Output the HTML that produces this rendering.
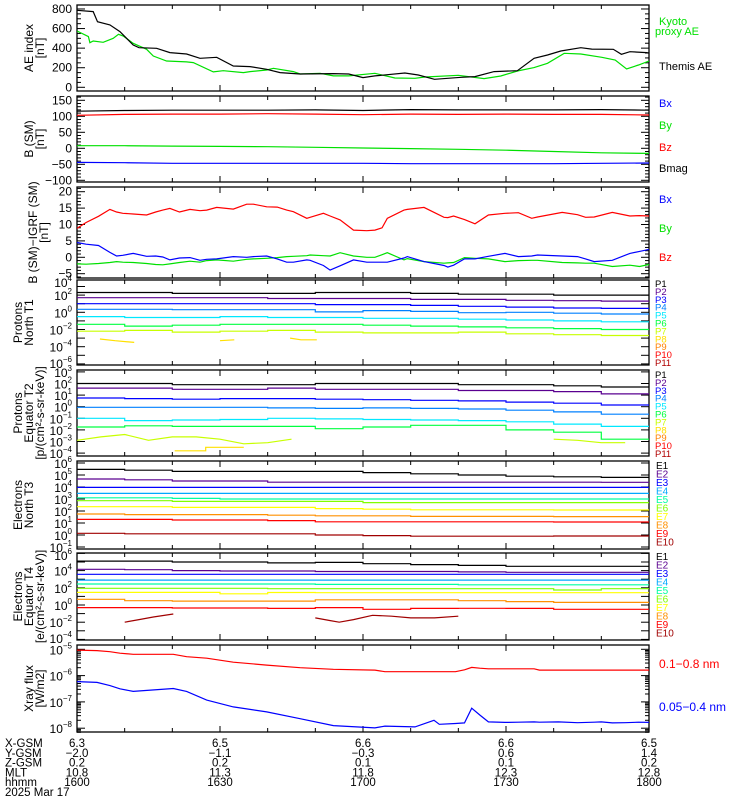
<!DOCTYPE html>
<html><head><meta charset="utf-8"><style>
body{margin:0;background:#fff}
svg{display:block;font-family:"Liberation Sans",sans-serif}
</style></head><body>
<svg id="c" width="750" height="800" viewBox="0 0 750 800" xmlns="http://www.w3.org/2000/svg"></svg>
<script>
// ---------- DATA ----------
const aeThemisT=[0,3.4,4.3,6.9,9,11.8,13,16.7,19.5,23,25.8,29.3,32.8,36.3,39.8,42.6,46.8,53.8,57,60,62.5,68.8,71.6,75,80.6,83.5,87.5,92.4,95.9,98.7,101.5,105.7,108,112.5,114.2,116,119.5,120];
const aeThemisV=[787,773,670,637,569,432,405,398,354,340,296,306,218,211,184,150,136,140,136,99,116,146,126,82,102,109,160,170,296,330,371,405,390,388,337,364,354,350];
const aeKyotoT=[0,2.4,2.7,3.4,5.5,7.6,8.7,9.7,11.8,14.6,16,18.8,23,24.4,28.6,30.7,34.9,36.3,39.8,41.2,45.4,46.8,51,53.8,57,62.5,66.7,70.9,73,80,85.4,88.9,92.4,95.9,98.7,102.2,105.7,110.1,112.9,115.3,117.8,120];
const aeKyotoV=[575,518,456,473,460,500,541,524,449,388,320,269,259,252,157,170,150,160,177,194,160,136,143,116,116,143,95,92,105,123,89,115,167,201,245,347,340,306,279,187,228,269];
const bT=[0,10,20,30,40,50,60,70,80,90,100,110,120];
const bxSM=[-44,-45,-47,-47,-47,-47,-47,-48,-48,-48,-48,-47,-46];
const bySM=[8,8,7,6,5,3,1,-1,-3,-6,-10,-14,-16];
const bzSM=[103,106,107,107,108,107,105,107,106,107,106,106,104];
const bmagSM=[116,118,119,119,119,120,118,121,120,120,120,121,119];
const dT=[0,1.9,4.5,6.9,8.3,9.6,11.8,14.6,16.5,18,19.5,21.5,23.7,25.8,27.2,29.3,32.8,35.6,37,39.8,42,44,45.4,48.2,48.9,51.7,53.1,55.2,58,60.8,62.5,64,65.1,68.6,69.3,72.8,77,77.8,79,81.3,83.5,86.3,89.8,92.6,95.4,96.6,101.8,105,106.7,108.5,112.3,116,118,120];
const dBz=[8.8,10.6,12.5,14.6,13.8,13.4,13.2,12.9,13.8,14.4,14.9,13.8,14.6,14.2,14.4,15.2,14.7,16.2,16.2,15.4,15.3,14.4,13.9,11.9,12.2,13.4,12.6,11.4,8.3,8.1,8.3,9,11.9,14.4,14.6,15.2,12.2,12.1,12.6,11.5,10.2,12.9,13.4,13.6,11.9,12.3,13.7,13,12.2,12.3,13.7,12.6,12.7,12.6];
const dBx=[4.5,4,3.6,1.5,0.4,0.6,1.2,0.3,0.4,0.1,-0.8,-0.2,-0.1,-0.9,-0.6,-0.5,0.2,0,0.2,0.4,-0.5,-1.5,-1.5,-0.8,-0.9,-2.5,-3.9,-2.6,-0.8,-1.5,-1.5,-1.5,-1.5,-0.2,0.2,-1.3,-2.5,-3,-2.4,-0.5,-0.5,0.3,1.2,0.2,0.4,0.7,0.4,0.2,-0.5,-1.3,-0.9,1.2,1.8,2.4];
const dBy=[-2,-2.1,-1.9,-1.6,-1.3,-1.5,-1.6,-1.9,-2.2,-2.3,-2,-1.6,-1.2,-1.5,-1,-0.8,-1.2,-0.6,-0.5,-0.3,-0.1,0.2,0.3,0.5,0.7,0.5,0.4,1.4,0.4,0,0,0.8,1.4,-0.8,-0.4,-1.3,-1.8,-1.7,-1.6,-0.1,-0.3,-0.5,-1.3,-1,-0.9,-0.9,-1.6,-1.7,-1.8,-1.8,-2.8,-2.4,-2.8,-2.2];
const stepT=[0,10,20,30,40,50,60,70,80,90,100,110,120];
// Protons North T1 (log10 flux)
const pn1=[2.3,2.3,2.2,2.2,2.2,2.3,2.3,2.2,2.1,2.1,2.0,2.0];
const pn2=[1.7,1.7,1.7,1.7,1.6,1.6,1.6,1.5,1.5,1.4,1.35,1.3];
const pn3=[1.0,1.0,1.0,1.0,1.0,0.9,0.9,0.8,0.7,0.6,0.5,0.45];
const pn4=[0.35,0.35,0.3,0.3,0.3,0.05,0.2,0.1,-0.05,0,-0.1,-0.2];
const pn5=[-0.5,-0.6,-0.6,-0.5,-0.6,-0.6,-0.7,-0.7,-0.8,-0.9,-1.0,-1.1];
const pn6=[-1.4,-1.6,-1.5,-1.4,-1.4,-1.4,-1.5,-1.6,-1.7,-1.8,-1.9,-2.0];
const pn7=[-2.2,-2.1,-2.3,-2.2,-2.1,-2.3,-2.4,-2.4,-2.3,-2.5,-2.6,-2.7];
const pn8T=[4.8,8,12,20.1,null,30,33,35,null,44.7,47,50.3];
const pn8=[-3.1,-3.3,-3.5,null,null,-3.3,-3.2,null,null,-3.0,-3.2];
// Protons Equator T2
const pe1=[2.0,2.0,1.9,1.9,1.9,2.0,2.0,2.0,1.9,1.9,1.8,1.7];
const pe2=[1.6,1.6,1.5,1.5,1.6,1.5,1.5,1.5,1.4,1.4,1.3,1.1];
const pe3=[0.75,0.7,0.65,0.7,0.7,0.65,0.6,0.55,0.5,0.4,0.3,0.15];
const pe4=[-0.05,-0.05,-0.05,-0.05,-0.1,-0.15,-0.1,-0.15,-0.2,-0.3,-0.45,-0.65];
const pe5=[-1.0,-1.2,-1.15,-1.1,-1.0,-1.05,-1.1,-1.15,-1.2,-1.3,-1.5,-1.7];
const pe6=[-1.75,-1.65,-1.7,-1.7,-1.7,-1.9,-1.75,-1.6,-1.6,-2.0,-2.2,-2.8];
const pe7T=[0,5,10,15,20,25,30,35,40,45,50,null,100,105,110,115];
const pe7=[-2.9,-2.6,-2.4,-2.9,-2.6,-2.6,-2.8,-3.2,-3.1,-2.8,null,null,-2.8,-2.9,-3.1];
const pe8T=[20.5,27,35];
const pe8=[-3.8,-3.5];
// Electrons North T3
const en1=[5.47,5.4,5.3,5.3,5.3,5.3,5.2,5.1,5.0,4.9,4.85,4.8];
const en2=[4.67,4.6,4.5,4.5,4.4,4.4,4.4,4.4,4.4,4.4,4.4,4.39];
const en3=[3.97,3.97,3.97,3.97,3.97,3.97,3.97,3.97,3.97,3.97,3.97,3.97];
const en4=[3.47,3.47,3.47,3.47,3.47,3.47,3.47,3.47,3.47,3.47,3.47,3.47];
const en5=[3.1,3.1,3.05,3.0,3.0,3.0,3.0,3.0,3.0,3.0,3.0,3.0];
const en6=[2.86,2.86,2.8,2.8,2.8,2.8,2.7,2.7,2.7,2.7,2.7,2.7];
const en7=[2.36,2.36,2.3,2.3,2.3,2.2,2.15,2.1,2.1,2.1,2.08,2.08];
const en8=[1.75,1.7,1.7,1.7,1.65,1.6,1.6,1.55,1.55,1.55,1.53,1.53];
const en9=[1.3,1.3,1.25,1.25,1.2,1.1,1.1,1.1,1.1,1.1,1.08,1.08];
const en10=[0.14,0.1,0.1,0.1,0.1,0,-0.05,-0.1,-0.1,-0.1,-0.08,-0.08];
// Electrons Equator T4
const ee1=[5.1,5.1,5.0,5.0,4.9,4.95,4.8,4.7,4.6,4.5,4.5,4.5];
const ee2=[4.15,4.1,4.0,3.95,3.95,3.9,3.9,3.9,3.85,3.8,3.8,3.8];
const ee3=[3.57,3.57,3.57,3.57,3.57,3.57,3.57,3.57,3.57,3.57,3.57,3.57];
const ee4=[2.9,2.9,2.9,2.9,2.9,2.9,2.9,2.9,2.9,2.9,2.9,2.9];
const ee5=[2.44,2.44,2.44,2.44,2.44,2.4,2.4,2.4,2.35,2.35,2.35,2.35];
const ee6=[1.94,1.94,1.94,1.94,1.9,1.9,1.9,1.9,1.9,1.9,1.75,1.9];
const ee7=[1.47,1.47,1.47,1.3,1.45,1.43,1.43,1.43,1.43,1.43,1.43,1.43];
const ee8=[0.66,0.5,0.45,0.45,0.45,0.6,0.6,0.6,0.5,0.4,0.3,0.3];
const ee9=[-0.3,-0.3,-0.35,-0.35,-0.4,-0.3,-0.5,-0.4,-0.38,-0.4,-0.5,-0.5];
const ee10T=[10,13,16,20.2,null,50,53,55,58,62,66,70,75,80];
const ee10=[-2.0,-1.7,-1.4,-1.05,null,-1.5,-1.8,-2.0,-1.7,-1.2,-1.3,-1.5,-1.5,-1.3];
// X-ray (log10 W/m2)
const xrT=[0,4.2,6.9,9,11.8,20.2,23,27.2,32.8,39.8,46.8,53.8,62.5,64.6,70.9,74.9,76,79.4,81.3,82.8,84.5,86.3,89.8,92.6,95.9,97,101,105,108.5,110,112.3,115,117.8,120];
const xrLong=[-5.03,-5.05,-5.09,-5.15,-5.19,-5.19,-5.28,-5.34,-5.49,-5.6,-5.7,-5.76,-5.79,-5.85,-5.85,-5.85,-5.85,-5.85,-5.78,-5.69,-5.72,-5.74,-5.74,-5.74,-5.74,-5.79,-5.79,-5.79,-5.79,-5.79,-5.79,-5.79,-5.79,-5.79];
const xrShort=[-6.23,-6.26,-6.38,-6.5,-6.6,-6.49,-6.6,-6.93,-7.19,-7.38,-7.64,-7.9,-7.99,-7.92,-7.95,-7.7,-7.85,-7.82,-7.8,-7.24,-7.5,-7.76,-7.78,-7.77,-7.76,-7.77,-7.76,-7.79,-7.77,-7.76,-7.8,-7.79,-7.77,-7.78];
// Axis labels
const aeTicks=[0,200,400,600,800];
const bTicks=[-100,-50,0,50,100,150];
const dTicks=[-5,0,5,10,15,20];
const pnTicks=[-6,-4,-2,0,2,4];
const peTicks=[-4,-3,-2,-1,0,1,2,3];
const enTicks=[-1,0,1,2,3,4,5,6];
const eeTicks=[-4,-2,0,2,4,6];
const xrTicks=[-8,-7,-6,-5];
const ephLabels=["X-GSM","Y-GSM","Z-GSM","MLT","hhmm"];
const ephT=[0,30,60,90,120];
const ephX=["6.3","6.5","6.6","6.6","6.5"];
const ephY=["\u22122.0","\u22121.1","\u22120.3","0.6","1.4"];
const ephZ=["0.2","0.2","0.1","0.1","0.2"];
const ephMLT=["10.8","11.3","11.8","12.3","12.8"];
const ephHHMM=["1600","1630","1700","1730","1800"];

// ---------- DRAW ----------
const S=document.getElementById('c');
const NS='http://www.w3.org/2000/svg';
function mk(tag,at,parent){const e=document.createElementNS(NS,tag);for(const k in at)e.setAttribute(k,at[k]);(parent||S).appendChild(e);return e;}
const X0=77,X1=649;
const xS=t=>X0+t*(X1-X0)/120;
const minus=s=>String(s).replace('-','\u2212');

const panels=[
 {name:'ae-panel',top:5,bot:91,y:v=>87.3-v*0.0979},
 {name:'b-sm-panel',top:96,bot:182,y:v=>148.3-v*0.32},
 {name:'db-panel',top:187,bot:278,y:v=>257.3-v*3.28},
 {name:'protons-north-panel',top:280,bot:365,y:e=>312.3-e*8.6},
 {name:'protons-equator-panel',top:370,bot:456,y:e=>406.7-e*11.6},
 {name:'electrons-north-panel',top:461,bot:549,y:e=>535-e*12},
 {name:'electrons-equator-panel',top:553,bot:640,y:e=>605-e*8.6},
 {name:'xray-panel',top:645,bot:732,y:e=>649.3-(e+5)*26.3}
];
panels.forEach((p,i)=>{
 const g=mk('g',{});
 
 
 p.g=g;
 const cp=mk('clipPath',{id:'cp'+i},g);
 mk('rect',{x:X0,y:p.top,width:X1-X0,height:p.bot-p.top},cp);
 p.clip='url(#cp'+i+')';
 // time ticks
 for(let t=0;t<=120;t+=10){
  const L=(t%30===0)?6:4;const x=xS(t);
  const a=mk('line',{x1:x,x2:x,y1:p.bot,y2:p.bot-L,stroke:'#000'},g);
  
  const b=mk('line',{x1:x,x2:x,y1:p.top,y2:p.top+L,stroke:'#000'},g);
  
 }
 const fr=mk('rect',{x:X0,y:p.top,width:X1-X0,height:p.bot-p.top,fill:'none',stroke:'#000','stroke-width':1.3},g);
 
});
function ytick(p,v,L){const y=p.y(v);if(y<p.top-0.5||y>p.bot+0.5)return;
 mk('line',{x1:X0,x2:X0+L,y1:y,y2:y,stroke:'#000'},p.g);
 mk('line',{x1:X1,x2:X1-L,y1:y,y2:y,stroke:'#000'},p.g);}
function linLabel(p,v){const t=mk('text',{x:72,y:p.y(v)+4,'text-anchor':'end','font-size':12},p.g);t.textContent=minus(v);
 }
function logLabel(p,e){const y=Math.min(Math.max(p.y(e),p.top+2),p.bot-2);
 const t=mk('text',{x:72,y:y+5,'text-anchor':'end','font-size':12},p.g);
 
 t.appendChild(document.createTextNode('10'));
 const s=mk('tspan',{dy:-6,'font-size':8},t);s.textContent=minus(e);}
function poly(p,T,V,color,name){let d='',pen=false;
 for(let i=0;i<T.length;i++){if(T[i]==null||V[i]==null){pen=false;continue;}
  d+=(pen?'L':'M')+xS(T[i]).toFixed(1)+' '+p.y(V[i]).toFixed(1);pen=true;}
 const e=mk('path',{d:d,fill:'none',stroke:color,'stroke-width':1.2,'clip-path':p.clip},p.g);
 }
function steps(p,T,V,color,name){let d='';
 for(let i=0;i<V.length;i++){if(V[i]==null||T[i]==null||T[i+1]==null)continue;
  const y=p.y(V[i]).toFixed(1);
  const cont=i>0&&V[i-1]!=null&&T[i-1]!=null;
  d+=(cont?'L':'M')+xS(T[i]).toFixed(1)+' '+y+'L'+xS(T[i+1]).toFixed(1)+' '+y;}
 const e=mk('path',{d:d,fill:'none',stroke:color,'stroke-width':1.2,'clip-path':p.clip},p.g);
 }
function legend(p,x,y,txt,color,fs){const t=mk('text',{x:x,y:y,fill:color,'font-size':fs||11},p.g);t.textContent=txt;
 }
function ylabel(p,lines,cx){const cy=(p.top+p.bot)/2;
 const t=mk('text',{transform:'translate('+cx+','+cy+') rotate(-90)','text-anchor':'middle','font-size':12},p.g);
 
 lines.forEach((l,i)=>{const s=mk('tspan',{x:0,dy:i===0?0:11},t);s.textContent=l;});}

// Panel 1 AE
let p=panels[0];
for(let v=-50;v<=850;v+=50)ytick(p,v,v%200===0?8:4);
aeTicks.forEach(v=>linLabel(p,v));
poly(p,aeKyotoT,aeKyotoV,'#00e000','kyoto-ae-line');
poly(p,aeThemisT,aeThemisV,'#000','themis-ae-line');
legend(p,659,25,'Kyoto','#00e000');legend(p,655,35,'proxy AE','#00e000');legend(p,659,70,'Themis AE','#000');
ylabel(p,['AE index','[nT]'],33);
// Panel 2 B SM
p=panels[1];
for(let v=-110;v<=160;v+=10)ytick(p,v,v%50===0?8:4);
bTicks.forEach(v=>linLabel(p,v));
poly(p,bT,bySM,'#00e000','by-line');poly(p,bT,bxSM,'#0000ff','bx-line');
poly(p,bT,bzSM,'#ff0000','bz-line');poly(p,bT,bmagSM,'#000','bmag-line');
legend(p,659,107,'Bx','#0000ff');legend(p,659,129,'By','#00e000');legend(p,659,151,'Bz','#ff0000');legend(p,659,172,'Bmag','#000');
ylabel(p,['B (SM)','[nT]'],33);
// Panel 3 dB
p=panels[2];
for(let v=-6;v<=21;v+=1)ytick(p,v,v%5===0?8:4);
dTicks.forEach(v=>linLabel(p,v));
poly(p,dT,dBz,'#ff0000','dbz-line');poly(p,dT,dBy,'#00e000','dby-line');poly(p,dT,dBx,'#0000ff','dbx-line');
legend(p,659,203,'Bx','#0000ff');legend(p,659,232,'By','#00e000');legend(p,659,261,'Bz','#ff0000');
ylabel(p,['B (SM)\u2212IGRF (SM)','[nT]'],37);
// log panels
const PC=['#000','#5a0090','#0000ff','#0080ff','#00e8ff','#00ff40','#c8ff00','#ffe000','#ff8000','#ff0000','#b00000'];
const EC=['#000','#5a0090','#0000ff','#00a8ff','#00ffa0','#80ff00','#ffff00','#ff9000','#ff0000','#a00000'];
function logTicks(p,lo,hi,labels){for(let e=lo;e<=hi;e++)ytick(p,e,8);labels.forEach(e=>logLabel(p,e));}
p=panels[3];logTicks(p,-6,4,pnTicks);
[pn1,pn2,pn3,pn4,pn5,pn6,pn7].forEach((a,i)=>steps(p,stepT,a,PC[i],'p'+(i+1)+'-line'));
poly(p,pn8T,pn8.concat([pn8[pn8.length-1]]),PC[7],'p8-line');
for(let i=0;i<11;i++)legend(p,655,287+i*7.9,'P'+(i+1),PC[i],9.5);
ylabel(p,['Protons','North T1'],22);
p=panels[4];logTicks(p,-4,3,peTicks);
[pe1,pe2,pe3,pe4,pe5,pe6].forEach((a,i)=>steps(p,stepT,a,PC[i],'p'+(i+1)+'-equator-line'));
poly(p,pe7T,pe7.concat([pe7[pe7.length-1]]),PC[6],'p7-equator-line');
steps(p,pe8T,pe8,PC[7],'p8-equator-line');
for(let i=0;i<11;i++)legend(p,655,378+i*7.9,'P'+(i+1),PC[i],9.5);
ylabel(p,['Protons','Equator T2','[p/(cm\u00b2-s-sr-keV)]'],22);
p=panels[5];logTicks(p,-1,6,enTicks);
[en1,en2,en3,en4,en5,en6,en7,en8,en9,en10].forEach((a,i)=>steps(p,stepT,a,EC[i],'e'+(i+1)+'-line'));
for(let i=0;i<10;i++)legend(p,656,469+i*8.5,'E'+(i+1),EC[i],10);
ylabel(p,['Electrons','North T3'],22);
p=panels[6];logTicks(p,-5,6,eeTicks);
[ee1,ee2,ee3,ee4,ee5,ee6,ee7,ee8,ee9].forEach((a,i)=>steps(p,stepT,a,EC[i],'e'+(i+1)+'-equator-line'));
poly(p,ee10T,ee10,EC[9],'e10-equator-line');
for(let i=0;i<10;i++)legend(p,656,560+i*8.5,'E'+(i+1),EC[i],10);
ylabel(p,['Electrons','Equator T4','[e/(cm\u00b2-s-sr-keV)]'],22);
p=panels[7];
for(let e=-9;e<=-5;e++){for(let m=1;m<10;m++){const v=e+Math.log10(m);ytick(p,v,m===1?8:4);}}
xrTicks.forEach(e=>logLabel(p,e));
poly(p,xrT,xrLong,'#ff0000','xray-long-line');poly(p,xrT,xrShort,'#0000ff','xray-short-line');
legend(p,659,668,'0.1\u22120.8 nm','#ff0000',12);legend(p,659,711,'0.05\u22120.4 nm','#0000ff',12);
ylabel(p,['Xray flux','[W/m2]'],33);
// Ephemeris
const eg=mk('g',{});
const rows=[ephX,ephY,ephZ,ephMLT,ephHHMM];
ephLabels.forEach((l,r)=>{const y=747+r*9.8;
 const t=mk('text',{x:5,y:y,'font-size':11.5},eg);t.textContent=l;
 
 ephT.forEach((tt,i)=>{const v=mk('text',{x:xS(tt),y:y,'font-size':11.5,'text-anchor':'middle'},eg);v.textContent=rows[r][i];
  });});
const dt=mk('text',{x:5,y:796,'font-size':11.5},eg);dt.textContent='2025 Mar 17';

</script>
</body></html>
